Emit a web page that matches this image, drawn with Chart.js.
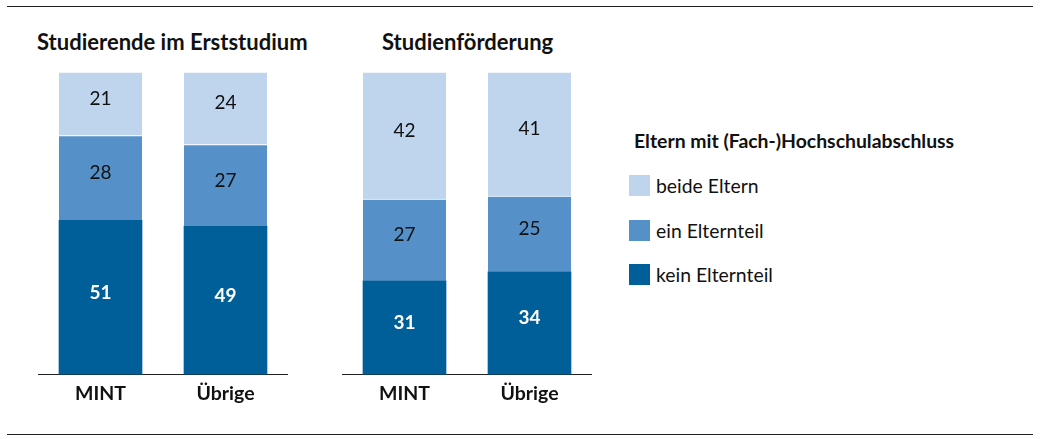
<!DOCTYPE html>
<html>
<head>
<meta charset="utf-8">
<script src="https://cdn.jsdelivr.net/npm/chart.js@4"></script>
<style>
  body { margin: 0; background: #fff; width: 1040px; height: 439px; position: relative; overflow: hidden; font-family: Lato, "Open Sans", sans-serif; color: #111; }
  .rule { position: absolute; left: 7px; width: 1026px; height: 1px; background: #222; }
  .title { position: absolute; top: 28px; font-weight: bold; font-size: 22px; white-space: nowrap; }
  .box { position: absolute; }
  #legend { position: absolute; left: 629px; top: 129px; }
  #legend .head { font-weight: bold; font-size: 19.4px; margin-left: 5px; height: 24px; line-height: 24px; margin-bottom: 22px; }
  #legend .item { display: flex; align-items: center; height: 21px; margin-bottom: 23.5px; font-size: 19.4px; }
  #legend .sw { width: 21px; height: 21px; margin-right: 6px; }
</style>
</head>
<body>
<div class="rule" style="top:6px"></div>
<div class="rule" style="top:434px"></div>
<div class="title" id="t1" style="left:37px">Studierende im Erststudium</div>
<div class="title" id="t2" style="left:382px">Studienförderung</div>
<div class="box" style="left:38px;top:60px;width:250px;height:356px"><canvas id="chart-left"></canvas></div>
<div class="box" style="left:342px;top:60px;width:250px;height:356px"><canvas id="chart-right"></canvas></div>
<div id="legend"></div>
<script>
// Kategorien und Werte (Prozent)
const categories = ['MINT', 'Übrige'];
const seriesNames = ['kein Elternteil', 'ein Elternteil', 'beide Eltern'];
const seriesColors = ['#005F99', '#5590C8', '#BFD5EE'];

const erststudiumKein = [51, 49];
const erststudiumEin = [28, 27];
const erststudiumBeide = [21, 24];

const foerderungKein = [31, 34];
const foerderungEin = [27, 25];
const foerderungBeide = [42, 41];

const FONT = 'Lato, "Open Sans", sans-serif';

// Werte in die Segmente schreiben (leicht oberhalb der Mitte)
const segmentLabels = {
    id: 'segmentLabels',
    afterDatasetsDraw(chart) {
        const ctx = chart.ctx;
        ctx.save();
        ctx.textAlign = 'center';
        ctx.textBaseline = 'middle';
        chart.data.datasets.forEach((ds, i) => {
            const meta = chart.getDatasetMeta(i);
            meta.data.forEach((bar, j) => {
                const y = (bar.y + bar.base) / 2;
                ctx.fillStyle = i === 0 ? '#fff' : '#111';
                ctx.font = (i === 0 ? 'bold ' : '') + '19px ' + FONT;
                ctx.fillText(ds.data[j], bar.x, y - 5);
            });
        });
        ctx.restore();
    }
};

function makeChart(id, kein, ein, beide) {
    const values = [kein, ein, beide];
    return new Chart(document.getElementById(id), {
        type: 'bar',
        data: {
            labels: categories,
            datasets: seriesNames.map((name, i) => ({
                label: name,
                data: values[i],
                backgroundColor: seriesColors[i],
                borderColor: '#fff',
                borderWidth: { top: i === 0 ? 0 : 1, left: 0, right: 0, bottom: 0 },
                borderSkipped: false,
                barThickness: 83
            }))
        },
        options: {
            responsive: true,
            maintainAspectRatio: false,
            animation: false,
            layout: { padding: { top: 12, bottom: 4, left: 0, right: 0 } },
            plugins: { legend: { display: false }, tooltip: { enabled: false } },
            scales: {
                x: {
                    stacked: true,
                    grid: { display: false, drawTicks: false },
                    border: { display: true, color: '#222', width: 1 },
                    ticks: { color: '#111', padding: 7, font: { family: FONT, size: 19.5, weight: 'bold' } }
                },
                y: { stacked: true, display: false, min: 0, max: 100 }
            }
        },
        plugins: [segmentLabels]
    });
}

makeChart('chart-left', erststudiumKein, erststudiumEin, erststudiumBeide);
makeChart('chart-right', foerderungKein, foerderungEin, foerderungBeide);

// Legende
const legend = document.getElementById('legend');
legend.innerHTML = '<div class="head">Eltern mit (Fach-)Hochschulabschluss</div>' +
    seriesNames.map((n, i) => ({ n, c: seriesColors[i] })).reverse()
        .map(s => `<div class="item"><span class="sw" style="background:${s.c}"></span>${s.n}</div>`).join('');
</script>
</body>
</html>
